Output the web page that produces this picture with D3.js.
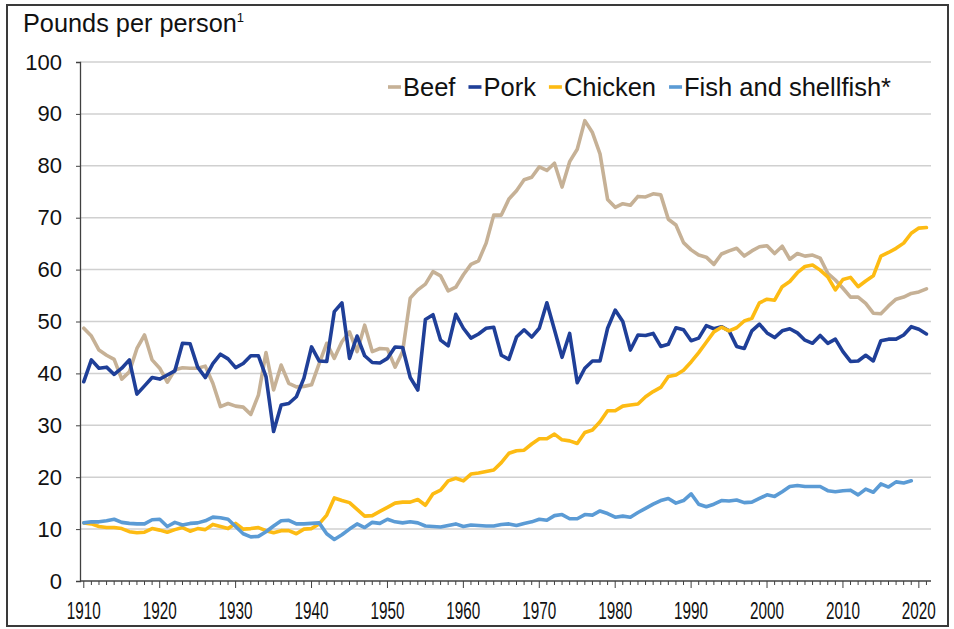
<!DOCTYPE html>
<html><head><meta charset="utf-8">
<script src="https://cdn.jsdelivr.net/npm/d3@7"></script>
<style>html,body{margin:0;padding:0;background:#fff;}svg{display:block;}</style>
</head><body>
<svg id="chart" width="954" height="629"></svg>
<script>
const startYear = 1910;
const beef = [48.7,47.2,44.5,43.5,42.7,38.9,40.3,44.8,47.4,42.6,41.0,38.3,40.7,41.1,41.0,41.0,41.4,38.1,33.6,34.2,33.7,33.5,32.1,35.8,44.0,36.8,41.6,38.1,37.4,37.5,37.8,41.9,45.8,42.9,46.1,48.0,44.2,49.3,44.2,44.8,44.7,41.2,44.2,54.5,56.1,57.2,59.6,58.8,55.9,56.6,59.0,61.0,61.7,65.1,70.5,70.5,73.6,75.2,77.3,77.8,79.8,79.1,80.5,75.9,80.8,83.2,88.7,86.4,82.3,73.5,72.0,72.7,72.4,74.1,74.0,74.6,74.4,69.7,68.6,65.2,63.8,62.8,62.4,61.0,63.0,63.6,64.1,62.6,63.6,64.4,64.6,63.1,64.5,62.0,63.1,62.6,62.8,62.2,59.3,58.0,56.4,54.7,54.7,53.5,51.6,51.5,53.0,54.3,54.7,55.4,55.7,56.3];
const pork = [38.4,42.6,41.0,41.2,39.8,41.0,42.6,36.0,37.6,39.2,38.9,39.7,40.5,45.8,45.7,41.2,39.2,41.9,43.7,42.8,41.1,41.9,43.4,43.4,39.4,28.8,33.9,34.2,35.5,39.1,45.1,42.4,42.3,51.9,53.6,42.9,47.2,43.4,42.1,42.0,42.9,45.1,45.0,39.2,36.8,50.4,51.3,46.4,45.3,51.4,48.7,46.8,47.6,48.7,48.9,43.5,42.7,47.0,48.4,47.0,48.7,53.6,48.4,43.1,47.7,38.2,41.0,42.4,42.4,48.7,52.2,50.0,44.5,47.4,47.3,47.7,45.2,45.6,48.8,48.4,46.3,46.8,49.2,48.6,49.0,48.2,45.2,44.8,48.2,49.5,47.8,46.9,48.2,48.6,47.8,46.4,45.8,47.3,45.8,46.6,44.2,42.3,42.4,43.5,42.4,46.3,46.6,46.6,47.4,49.0,48.5,47.6];
const chicken = [11.2,11.0,10.5,10.3,10.3,10.1,9.5,9.3,9.4,10.1,9.8,9.4,9.9,10.3,9.6,10.1,9.9,10.9,10.5,10.1,11.1,10.0,10.1,10.3,9.7,9.3,9.7,9.7,9.1,10.0,10.1,11.0,12.7,16.0,15.5,15.1,13.8,12.5,12.6,13.4,14.2,15.0,15.2,15.2,15.7,14.6,16.8,17.5,19.3,19.8,19.3,20.6,20.8,21.1,21.4,22.8,24.6,25.1,25.2,26.4,27.4,27.4,28.3,27.2,27.0,26.5,28.6,29.1,30.7,32.8,32.8,33.7,33.9,34.1,35.5,36.5,37.3,39.4,39.7,40.6,42.2,44.0,46.0,48.0,48.9,48.2,48.8,50.1,50.6,53.6,54.3,54.1,56.7,57.7,59.4,60.6,60.9,59.9,58.6,56.1,58.1,58.5,56.7,57.8,58.8,62.6,63.3,64.1,65.1,67.0,68.0,68.1];
const fish = [11.2,11.4,11.4,11.6,11.9,11.3,11.1,11.0,11.0,11.8,11.9,10.5,11.3,10.8,11.1,11.2,11.6,12.3,12.2,11.9,10.5,9.1,8.5,8.6,9.5,10.6,11.6,11.7,11.0,11.0,11.1,11.2,9.1,8.0,8.9,10.0,11.0,10.3,11.3,11.1,11.9,11.4,11.2,11.4,11.2,10.6,10.5,10.4,10.7,11.0,10.5,10.8,10.7,10.6,10.6,10.9,11.0,10.7,11.1,11.4,11.9,11.7,12.6,12.8,12.0,12.0,12.8,12.7,13.5,13.0,12.3,12.5,12.3,13.2,14.0,14.8,15.5,15.9,15.0,15.5,16.8,14.8,14.3,14.8,15.5,15.4,15.6,15.1,15.2,15.9,16.6,16.3,17.2,18.2,18.4,18.2,18.2,18.2,17.4,17.2,17.4,17.5,16.6,17.7,17.1,18.7,18.1,19.1,18.9,19.3];
const seriesNames = ["Beef","Pork","Chicken","Fish and shellfish*"];
const seriesColors = ["#C6B196","#1F3F98","#FDBB13","#5B9BD5"];
const yTicks = [0,10,20,30,40,50,60,70,80,90,100];
const xTicks = [1910,1920,1930,1940,1950,1960,1970,1980,1990,2000,2010,2020];
const yTitle = "Pounds per person";

(function(){
const svg = d3.select("#chart");
const pL = 80, pR = 931, pT = 62, pB = 581;

svg.append("rect").attr("x",7).attr("y",5).attr("width",941).attr("height",621)
  .attr("fill","none").attr("stroke","#3a3a3a").attr("stroke-width",2);

const x = d3.scaleLinear().domain([1909.5, 2021.6]).range([pL, pR]);
const y = d3.scaleLinear().domain([0,100]).range([pB, pT]);

svg.append("g").selectAll("line").data(yTicks.filter(d=>d>0)).join("line")
  .attr("x1",pL).attr("x2",pR).attr("y1",d=>y(d)).attr("y2",d=>y(d))
  .attr("stroke","#d0d0d0").attr("stroke-width",1.5);

const yAxis = d3.axisLeft(y).tickValues(yTicks).tickSize(4).tickPadding(14);
const gy = svg.append("g").attr("transform",`translate(${pL},0)`).call(yAxis);
gy.select(".domain").attr("stroke","#404040").attr("stroke-width",1.3);
gy.selectAll(".tick line").attr("stroke","#404040");
gy.selectAll("text").attr("font-family","Liberation Sans, Arial, sans-serif")
  .attr("font-size",22).attr("fill","#111");

const years = d3.range(startYear, 2022);
const gx = svg.append("g").attr("transform",`translate(0,${pB})`);
gx.append("line").attr("x1",pL).attr("x2",pR).attr("y1",0).attr("y2",0)
  .attr("stroke","#404040").attr("stroke-width",1.3);
gx.selectAll("line.minor").data(years).join("line").attr("class","minor")
  .attr("x1",d=>x(d)).attr("x2",d=>x(d)).attr("y1",0).attr("y2",d=>xTicks.includes(d)?7:4)
  .attr("stroke","#404040").attr("stroke-width",1);
gx.selectAll("text").data(xTicks).join("text")
  .attr("x",d=>x(d)).attr("y",38).attr("text-anchor","middle")
  .attr("font-family","Liberation Sans, Arial, sans-serif")
  .attr("font-size",23).attr("fill","#111")
  .attr("textLength",34).attr("lengthAdjust","spacingAndGlyphs")
  .text(d=>d);

const t = svg.append("text").attr("x",23).attr("y",32)
  .attr("font-family","Liberation Sans, Arial, sans-serif").attr("font-size",25.3).attr("fill","#111");
t.append("tspan").text(yTitle);
t.append("tspan").attr("font-size",13).attr("dy",-10).text("1");

const all = [beef, pork, chicken, fish];
const line = d3.line().x((d,i)=>x(startYear+i)).y(d=>y(d)).curve(d3.curveLinear);
all.forEach((s,k)=>{
  svg.append("path").datum(s).attr("d",line).attr("fill","none")
    .attr("stroke",seriesColors[k]).attr("stroke-width",3.6)
    .attr("stroke-linejoin","round").attr("stroke-linecap","round");
});

const lg = svg.append("g").attr("transform","translate(388,87)");
let cx = 0;
seriesNames.forEach((n,k)=>{
  lg.append("line").attr("x1",cx).attr("x2",cx+13).attr("y1",0).attr("y2",0)
    .attr("stroke",seriesColors[k]).attr("stroke-width",3.6);
  const tx = lg.append("text").attr("x",cx+15).attr("y",9)
    .attr("font-family","Liberation Sans, Arial, sans-serif").attr("font-size",25.5).attr("fill","#111").text(n);
  cx += 15 + tx.node().getComputedTextLength() + 13;
});
})();
</script>
</body></html>
